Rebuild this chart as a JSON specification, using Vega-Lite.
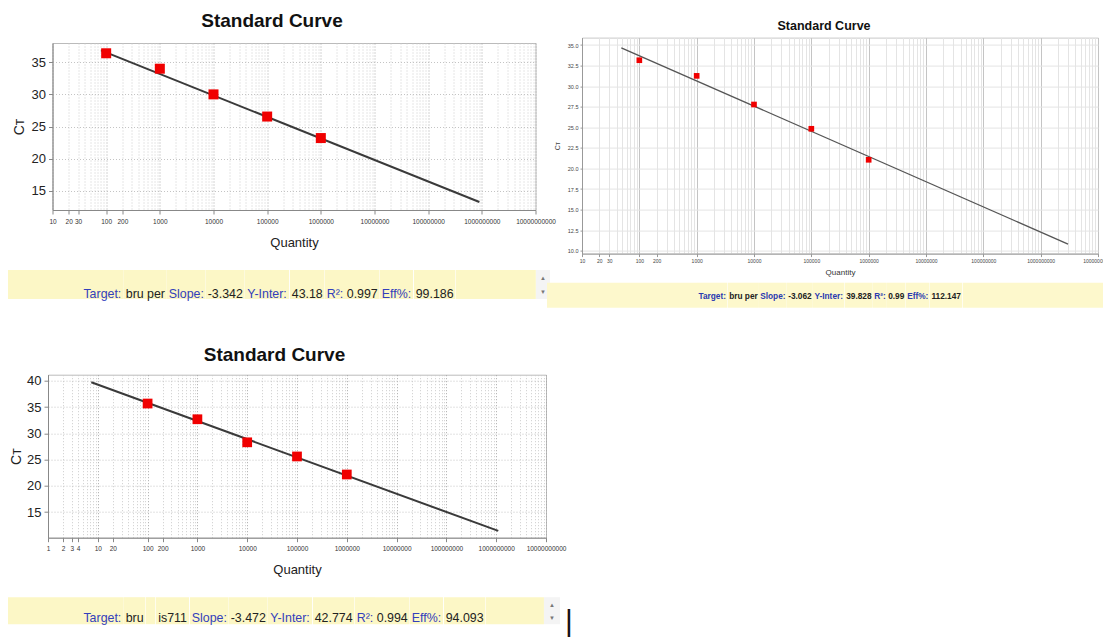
{
  "$schema": "https://vega.github.io/schema/vega-lite/v6.json",
  "background": "white",
  "padding": {"left": 8, "top": 11, "right": 0, "bottom": 0},
  "config": {
    "font": "Liberation Sans",
    "view": {"stroke": "#bbbbbb"},
    "axis": {"labelFont": "Liberation Sans", "titleFont": "Liberation Sans"}
  },
  "datasets": {
    "a_std": [{"quantity": 100, "ct": 36.4}, {"quantity": 1000, "ct": 34.0}, {"quantity": 10000, "ct": 30.0}, {"quantity": 100000, "ct": 26.55}, {"quantity": 1000000, "ct": 23.2}],
    "a_fit": [{"quantity": 80, "ct": 36.85}, {"quantity": 900000000, "ct": 13.25}],
    "b_std": [{"quantity": 100, "ct": 35.7}, {"quantity": 1000, "ct": 32.7}, {"quantity": 10000, "ct": 28.3}, {"quantity": 100000, "ct": 25.6}, {"quantity": 1000000, "ct": 22.16}],
    "b_fit": [{"quantity": 7.4, "ct": 39.75}, {"quantity": 1100000000, "ct": 11.4}],
    "c_std": [{"quantity": 100, "ct": 33.15}, {"quantity": 1000, "ct": 31.25}, {"quantity": 10000, "ct": 27.77}, {"quantity": 100000, "ct": 24.82}, {"quantity": 1000000, "ct": 21.05}],
    "c_fit": [{"quantity": 48.5, "ct": 34.66}, {"quantity": 3000000000, "ct": 10.8}],
    "a_label": [{"panel": "A"}],
    "b_label": [{"panel": "B"}],
    "c_label": [{"panel": "C"}],
    "blank": [{}]
  },
  "columns": 1,
  "align": "none",
  "spacing": 37.7,
  "concat": [
    {
      "align": "none",
      "spacing": -9,
      "concat": [
        {
          "columns": 1,
          "align": "none",
          "spacing": 20,
          "concat": [
            {
              "align": "none",
              "spacing": 2.5,
              "concat": [
                {"width": 1, "height": 1, "view": {"stroke": null}, "data": {"name": "blank"}, "mark": {"type": "rect", "opacity": 0}},
                {
                  "width": 483, "height": 167,
                  "title": {"text": "Standard Curve", "fontSize": 19, "fontWeight": "bold", "color": "#111111", "offset": 12.4, "dx": -22, "frame": "group", "anchor": "middle"},
                  "view": {"stroke": "#bbbbbb"},
                  "encoding": {
                    "x": {"field": "quantity", "type": "quantitative",
                      "scale": {"type": "log", "domain": [10, 10000000000], "nice": false},
                      "axis": {
                        "title": "Quantity", "titleFontSize": 13, "titleFontWeight": "normal", "titleColor": "#222222", "titlePadding": 11.8,
                        "values": [10,20,30,40,50,60,70,80,90,100,200,300,400,500,600,700,800,900,1000,2000,3000,4000,5000,6000,7000,8000,9000,10000,20000,30000,40000,50000,60000,70000,80000,90000,100000,200000,300000,400000,500000,600000,700000,800000,900000,1000000,2000000,3000000,4000000,5000000,6000000,7000000,8000000,9000000,10000000,20000000,30000000,40000000,50000000,60000000,70000000,80000000,90000000,100000000,200000000,300000000,400000000,500000000,600000000,700000000,800000000,900000000,1000000000,2000000000,3000000000,4000000000,5000000000,6000000000,7000000000,8000000000,9000000000,10000000000],
                        "labelExpr": "indexof([10,20,30,100,200,1000,10000,100000,1000000,10000000,100000000,1000000000,10000000000], datum.value) >= 0 ? format(datum.value, 'd') : ''",
                        "labelFontSize": 6.5, "labelColor": "#333333", "labelPadding": 4, "labelOverlap": false, "labelFlush": false,
                        "tickSize": 4, "tickColor": "#888888",
                        "tickOpacity": {"condition": {"test": "indexof([10,20,30,100,200,1000,10000,100000,1000000,10000000,100000000,1000000000,10000000000], datum.value) >= 0", "value": 1}, "value": 0},
                        "domainColor": "#888888",
                        "grid": true, "gridDash": [1, 2],
                        "gridColor": {"condition": {"test": "indexof([10,100,1000,10000,100000,1000000,10000000,100000000,1000000000,10000000000], datum.value) >= 0", "value": "#a8a8a8"}, "value": "#cccccc"}
                      }
                    },
                    "y": {"field": "ct", "type": "quantitative",
                      "scale": {"domain": [12, 38], "nice": false, "zero": false},
                      "axis": {
                        "title": "Cт", "titleFontSize": 14, "titleFontWeight": "normal", "titleColor": "#222222", "titlePadding": 5,
                        "values": [15, 20, 25, 30, 35],
                        "labelFontSize": 13, "labelColor": "#222222", "labelPadding": 3,
                        "tickSize": 4, "tickColor": "#888888", "domainColor": "#888888",
                        "grid": true, "gridDash": [1, 2], "gridColor": "#c4c4c4"
                      }
                    }
                  },
                  "layer": [
                    {"data": {"name": "a_fit"}, "mark": {"type": "line", "color": "#3a3a3a", "strokeWidth": 2}},
                    {"data": {"name": "a_label"}, "mark": {"type": "rect", "fill": "white"},
                      "encoding": {"x": {"datum": 10.3}, "x2": {"datum": 54}, "y": {"datum": 32.5}, "y2": {"datum": 38}}},
                    {"data": {"name": "a_label"}, "mark": {"type": "text", "font": "Liberation Serif", "fontSize": 17, "color": "#111111"},
                      "encoding": {"x": {"datum": 21.7}, "y": {"datum": 35.5}, "text": {"field": "panel"}}},
                    {"data": {"name": "a_std"}, "mark": {"type": "square", "size": 100, "color": "#f00000", "opacity": 1}}
                  ]
                }
              ]
            },
            {
              "bounds": "flush", "spacing": 0,
              "hconcat": [
                {"width": 73, "height": 29, "view": {"fill": "#fcf7c6", "stroke": null}, "data": {"name": "blank"}, "mark": {"type": "rect", "opacity": 0}},
                {"width": 42.73, "height": 29, "view": {"fill": "#fcf7c6", "stroke": null}, "data": {"values": [{"seg": "Target:"}]}, "mark": {"type": "text", "fontSize": 12.4, "color": "#3340bb", "dy": 9.5}, "encoding": {"text": {"field": "seg"}}},
                {"width": 42.73, "height": 29, "view": {"fill": "#fcf7c6", "stroke": null}, "data": {"values": [{"seg": "bru per"}]}, "mark": {"type": "text", "fontSize": 12.4, "color": "#222222", "dy": 9.5}, "encoding": {"text": {"field": "seg"}}},
                {"width": 38.6, "height": 29, "view": {"fill": "#fcf7c6", "stroke": null}, "data": {"values": [{"seg": "Slope:"}]}, "mark": {"type": "text", "fontSize": 12.4, "color": "#3340bb", "dy": 9.5}, "encoding": {"text": {"field": "seg"}}},
                {"width": 38.6, "height": 29, "view": {"fill": "#fcf7c6", "stroke": null}, "data": {"values": [{"seg": "-3.342"}]}, "mark": {"type": "text", "fontSize": 12.4, "color": "#222222", "dy": 9.5}, "encoding": {"text": {"field": "seg"}}},
                {"width": 44.11, "height": 29, "view": {"fill": "#fcf7c6", "stroke": null}, "data": {"values": [{"seg": "Y-Inter:"}]}, "mark": {"type": "text", "fontSize": 12.4, "color": "#3340bb", "dy": 9.5}, "encoding": {"text": {"field": "seg"}}},
                {"width": 34.47, "height": 29, "view": {"fill": "#fcf7c6", "stroke": null}, "data": {"values": [{"seg": "43.18"}]}, "mark": {"type": "text", "fontSize": 12.4, "color": "#222222", "dy": 9.5}, "encoding": {"text": {"field": "seg"}}},
                {"width": 19.98, "height": 29, "view": {"fill": "#fcf7c6", "stroke": null}, "data": {"values": [{"seg": "R²:"}]}, "mark": {"type": "text", "fontSize": 12.4, "color": "#3340bb", "dy": 9.5}, "encoding": {"text": {"field": "seg"}}},
                {"width": 34.47, "height": 29, "view": {"fill": "#fcf7c6", "stroke": null}, "data": {"values": [{"seg": "0.997"}]}, "mark": {"type": "text", "fontSize": 12.4, "color": "#222222", "dy": 9.5}, "encoding": {"text": {"field": "seg"}}},
                {"width": 33.09, "height": 29, "view": {"fill": "#fcf7c6", "stroke": null}, "data": {"values": [{"seg": "Eff%:"}]}, "mark": {"type": "text", "fontSize": 12.4, "color": "#3340bb", "dy": 9.5}, "encoding": {"text": {"field": "seg"}}},
                {"width": 41.37, "height": 29, "view": {"fill": "#fcf7c6", "stroke": null}, "data": {"values": [{"seg": "99.186"}]}, "mark": {"type": "text", "fontSize": 12.4, "color": "#222222", "dy": 9.5}, "encoding": {"text": {"field": "seg"}}},
                {"width": 79.8, "height": 29, "view": {"fill": "#fcf7c6", "stroke": null}, "data": {"name": "blank"}, "mark": {"type": "rect", "opacity": 0}},
                {"width": 14, "height": 29, "view": {"fill": "#f4f4f4", "stroke": null}, "data": {"values": [{"up": "▲", "down": "▼"}]},
                  "layer": [
                    {"mark": {"type": "text", "fontSize": 6, "color": "#777777", "dy": -6.5}, "encoding": {"text": {"field": "up"}}},
                    {"mark": {"type": "text", "fontSize": 6, "color": "#777777", "dy": 7.5}, "encoding": {"text": {"field": "down"}}}
                  ]}
              ]
            }
          ]
        },
        {
          "columns": 1,
          "align": "none",
          "spacing": 4.7,
          "concat": [
            {
              "columns": 1,
              "align": "none",
              "spacing": -24.4,
              "concat": [
                {"width": 1, "height": 1, "view": {"stroke": null}, "data": {"name": "blank"}, "mark": {"type": "rect", "opacity": 0}},
                {
                  "align": "none",
                  "spacing": 5,
                  "concat": [
                    {"width": 1, "height": 1, "view": {"stroke": null}, "data": {"name": "blank"}, "mark": {"type": "rect", "opacity": 0}},
                    {
                      "width": 516, "height": 216,
                      "title": {"text": "Standard Curve", "fontSize": 12.5, "fontWeight": "bold", "color": "#111111", "offset": 4.6, "dx": -16, "frame": "group", "anchor": "middle"},
                      "view": {"stroke": "#c8c8c8"},
                      "encoding": {
                        "x": {"field": "quantity", "type": "quantitative",
                          "scale": {"type": "log", "domain": [10, 10000000000], "nice": false},
                          "axis": {
                            "title": "Quantity", "titleFontSize": 8, "titleFontWeight": "normal", "titleColor": "#333333", "titlePadding": 5,
                            "values": [10,20,30,40,50,60,70,80,90,100,200,300,400,500,600,700,800,900,1000,2000,3000,4000,5000,6000,7000,8000,9000,10000,20000,30000,40000,50000,60000,70000,80000,90000,100000,200000,300000,400000,500000,600000,700000,800000,900000,1000000,2000000,3000000,4000000,5000000,6000000,7000000,8000000,9000000,10000000,20000000,30000000,40000000,50000000,60000000,70000000,80000000,90000000,100000000,200000000,300000000,400000000,500000000,600000000,700000000,800000000,900000000,1000000000,2000000000,3000000000,4000000000,5000000000,6000000000,7000000000,8000000000,9000000000,10000000000],
                            "labelExpr": "indexof([10,20,30,100,200,1000,10000,100000,1000000,10000000,100000000,1000000000,10000000000], datum.value) >= 0 ? format(datum.value, 'd') : ''",
                            "labelFontSize": 5, "labelColor": "#444444", "labelPadding": 2, "labelOverlap": false, "labelFlush": false,
                            "tickSize": 3, "tickColor": "#999999",
                            "tickOpacity": {"condition": {"test": "indexof([10,20,30,100,200,1000,10000,100000,1000000,10000000,100000000,1000000000,10000000000], datum.value) >= 0", "value": 1}, "value": 0},
                            "domainColor": "#999999",
                            "grid": true,
                            "gridColor": {"condition": {"test": "indexof([10,100,1000,10000,100000,1000000,10000000,100000000,1000000000,10000000000], datum.value) >= 0", "value": "#c4c4c4"}, "value": "#e4e4e4"}
                          }
                        },
                        "y": {"field": "ct", "type": "quantitative",
                          "scale": {"domain": [9.65, 35.9], "nice": false, "zero": false},
                          "axis": {
                            "title": "Cт", "titleFontSize": 7, "titleFontWeight": "normal", "titleColor": "#444444", "titlePadding": 6.3,
                            "values": [10, 12.5, 15, 17.5, 20, 22.5, 25, 27.5, 30, 32.5, 35], "format": ".1f",
                            "labelFontSize": 5.5, "labelColor": "#444444", "labelPadding": 2,
                            "tickSize": 2, "tickColor": "#999999", "domainColor": "#999999",
                            "grid": true, "gridColor": "#e4e4e4"
                          }
                        }
                      },
                      "layer": [
                        {"data": {"name": "c_fit"}, "mark": {"type": "line", "color": "#555555", "strokeWidth": 1.3}},
                        {"data": {"name": "c_label"}, "mark": {"type": "rect", "fill": "white"},
                          "encoding": {"x": {"datum": 10.3}, "x2": {"datum": 48}, "y": {"datum": 30.6}, "y2": {"datum": 35.8}}},
                        {"data": {"name": "c_label"}, "mark": {"type": "text", "font": "Liberation Serif", "fontSize": 20, "color": "#111111"},
                          "encoding": {"x": {"datum": 19.8}, "y": {"datum": 33.43}, "text": {"field": "panel"}}},
                        {"data": {"name": "c_std"}, "mark": {"type": "square", "size": 32, "color": "#f00000", "opacity": 1}}
                      ]
                    }
                  ]
                }
              ]
            },
            {
              "bounds": "flush", "spacing": 0,
              "hconcat": [
                {"width": 150, "height": 25, "view": {"fill": "#fdf8cc", "stroke": null}, "data": {"name": "blank"}, "mark": {"type": "rect", "opacity": 0}},
                {"width": 30.4, "height": 25, "view": {"fill": "#fdf8cc", "stroke": null}, "data": {"values": [{"seg": "Target:"}]}, "mark": {"type": "text", "fontSize": 8.3, "fontWeight": "bold", "color": "#2a3ab0", "dy": 1.5}, "encoding": {"text": {"field": "seg"}}},
                {"width": 30.9, "height": 25, "view": {"fill": "#fdf8cc", "stroke": null}, "data": {"values": [{"seg": "bru per"}]}, "mark": {"type": "text", "fontSize": 8.3, "fontWeight": "bold", "color": "#222222", "dy": 1.5}, "encoding": {"text": {"field": "seg"}}},
                {"width": 27.7, "height": 25, "view": {"fill": "#fdf8cc", "stroke": null}, "data": {"values": [{"seg": "Slope:"}]}, "mark": {"type": "text", "fontSize": 8.3, "fontWeight": "bold", "color": "#2a3ab0", "dy": 1.5}, "encoding": {"text": {"field": "seg"}}},
                {"width": 25.8, "height": 25, "view": {"fill": "#fdf8cc", "stroke": null}, "data": {"values": [{"seg": "-3.062"}]}, "mark": {"type": "text", "fontSize": 8.3, "fontWeight": "bold", "color": "#222222", "dy": 1.5}, "encoding": {"text": {"field": "seg"}}},
                {"width": 31.4, "height": 25, "view": {"fill": "#fdf8cc", "stroke": null}, "data": {"values": [{"seg": "Y-Inter:"}]}, "mark": {"type": "text", "fontSize": 8.3, "fontWeight": "bold", "color": "#2a3ab0", "dy": 1.5}, "encoding": {"text": {"field": "seg"}}},
                {"width": 27.7, "height": 25, "view": {"fill": "#fdf8cc", "stroke": null}, "data": {"values": [{"seg": "39.828"}]}, "mark": {"type": "text", "fontSize": 8.3, "fontWeight": "bold", "color": "#222222", "dy": 1.5}, "encoding": {"text": {"field": "seg"}}},
                {"width": 13.8, "height": 25, "view": {"fill": "#fdf8cc", "stroke": null}, "data": {"values": [{"seg": "R²:"}]}, "mark": {"type": "text", "fontSize": 8.3, "fontWeight": "bold", "color": "#2a3ab0", "dy": 1.5}, "encoding": {"text": {"field": "seg"}}},
                {"width": 18.5, "height": 25, "view": {"fill": "#fdf8cc", "stroke": null}, "data": {"values": [{"seg": "0.99"}]}, "mark": {"type": "text", "fontSize": 8.3, "fontWeight": "bold", "color": "#222222", "dy": 1.5}, "encoding": {"text": {"field": "seg"}}},
                {"width": 23.5, "height": 25, "view": {"fill": "#fdf8cc", "stroke": null}, "data": {"values": [{"seg": "Eff%:"}]}, "mark": {"type": "text", "fontSize": 8.3, "fontWeight": "bold", "color": "#2a3ab0", "dy": 1.5}, "encoding": {"text": {"field": "seg"}}},
                {"width": 32.3, "height": 25, "view": {"fill": "#fdf8cc", "stroke": null}, "data": {"values": [{"seg": "112.147"}]}, "mark": {"type": "text", "fontSize": 8.3, "fontWeight": "bold", "color": "#222222", "dy": 1.5}, "encoding": {"text": {"field": "seg"}}},
                {"width": 147, "height": 25, "view": {"fill": "#fdf8cc", "stroke": null}, "data": {"name": "blank"}, "mark": {"type": "rect", "opacity": 0}}
              ]
            }
          ]
        }
      ]
    },
    {
      "columns": 1,
      "align": "none",
      "spacing": 19.5,
      "concat": [
        {
          "align": "none",
          "spacing": 0,
          "concat": [
            {"width": 1, "height": 1, "view": {"stroke": null}, "data": {"name": "blank"}, "mark": {"type": "rect", "opacity": 0}},
            {
              "width": 498, "height": 163,
              "title": {"text": "Standard Curve", "fontSize": 19, "fontWeight": "bold", "color": "#111111", "offset": 9.3, "dx": -22.5, "frame": "group", "anchor": "middle"},
              "view": {"stroke": "#bbbbbb"},
              "encoding": {
                "x": {"field": "quantity", "type": "quantitative",
                  "scale": {"type": "log", "domain": [1, 10000000000], "nice": false},
                  "axis": {
                    "title": "Quantity", "titleFontSize": 13, "titleFontWeight": "normal", "titleColor": "#222222", "titlePadding": 11.7,
                    "values": [1,2,3,4,5,6,7,8,9,10,20,30,40,50,60,70,80,90,100,200,300,400,500,600,700,800,900,1000,2000,3000,4000,5000,6000,7000,8000,9000,10000,20000,30000,40000,50000,60000,70000,80000,90000,100000,200000,300000,400000,500000,600000,700000,800000,900000,1000000,2000000,3000000,4000000,5000000,6000000,7000000,8000000,9000000,10000000,20000000,30000000,40000000,50000000,60000000,70000000,80000000,90000000,100000000,200000000,300000000,400000000,500000000,600000000,700000000,800000000,900000000,1000000000,2000000000,3000000000,4000000000,5000000000,6000000000,7000000000,8000000000,9000000000,10000000000],
                    "labelExpr": "indexof([1,2,3,4,10,20,100,200,1000,10000,100000,1000000,10000000,100000000,1000000000,10000000000], datum.value) >= 0 ? format(datum.value, 'd') : ''",
                    "labelFontSize": 6.5, "labelColor": "#333333", "labelPadding": 4, "labelOverlap": false, "labelFlush": false,
                    "tickSize": 4, "tickColor": "#888888",
                    "tickOpacity": {"condition": {"test": "indexof([1,2,3,4,10,20,100,200,1000,10000,100000,1000000,10000000,100000000,1000000000,10000000000], datum.value) >= 0", "value": 1}, "value": 0},
                    "domainColor": "#888888",
                    "grid": true, "gridDash": [1, 2],
                    "gridColor": {"condition": {"test": "indexof([1,10,100,1000,10000,100000,1000000,10000000,100000000,1000000000,10000000000], datum.value) >= 0", "value": "#a8a8a8"}, "value": "#cccccc"}
                  }
                },
                "y": {"field": "ct", "type": "quantitative",
                  "scale": {"domain": [10.1, 41.2], "nice": false, "zero": false},
                  "axis": {
                    "title": "Cт", "titleFontSize": 14, "titleFontWeight": "normal", "titleColor": "#222222", "titlePadding": 2.8,
                    "values": [15, 20, 25, 30, 35, 40],
                    "labelFontSize": 13, "labelColor": "#222222", "labelPadding": 3,
                    "tickSize": 4, "tickColor": "#888888", "domainColor": "#888888",
                    "grid": true, "gridDash": [1, 2], "gridColor": "#c4c4c4"
                  }
                }
              },
              "layer": [
                {"data": {"name": "b_fit"}, "mark": {"type": "line", "color": "#3a3a3a", "strokeWidth": 2}},
                {"data": {"name": "b_label"}, "mark": {"type": "rect", "fill": "white"},
                  "encoding": {"x": {"datum": 1.03}, "x2": {"datum": 6.3}, "y": {"datum": 33.4}, "y2": {"datum": 41.2}}},
                {"data": {"name": "b_label"}, "mark": {"type": "text", "font": "Liberation Serif", "fontSize": 17, "color": "#111111"},
                  "encoding": {"x": {"datum": 2.27}, "y": {"datum": 37.06}, "text": {"field": "panel"}}},
                {"data": {"name": "b_std"}, "mark": {"type": "square", "size": 95, "color": "#f00000", "opacity": 1}}
              ]
            }
          ]
        },
        {
          "bounds": "flush", "spacing": 0,
          "hconcat": [
            {"width": 73, "height": 27, "view": {"fill": "#fcf7c6", "stroke": null}, "data": {"name": "blank"}, "mark": {"type": "rect", "opacity": 0}},
            {"width": 42.73, "height": 27, "view": {"fill": "#fcf7c6", "stroke": null}, "data": {"values": [{"seg": "Target:"}]}, "mark": {"type": "text", "fontSize": 12.4, "color": "#3340bb", "dy": 7.5}, "encoding": {"text": {"field": "seg"}}},
            {"width": 21.37, "height": 27, "view": {"fill": "#fcf7c6", "stroke": null}, "data": {"values": [{"seg": "bru"}]}, "mark": {"type": "text", "fontSize": 12.4, "color": "#222222", "dy": 7.5}, "encoding": {"text": {"field": "seg"}}},
            {"width": 9.3, "height": 27, "view": {"fill": "#fcf7c6", "stroke": null}, "data": {"name": "blank"}, "mark": {"type": "rect", "opacity": 0}},
            {"width": 33.09, "height": 27, "view": {"fill": "#fcf7c6", "stroke": null}, "data": {"values": [{"seg": "is711"}]}, "mark": {"type": "text", "fontSize": 12.4, "color": "#222222", "dy": 7.5}, "encoding": {"text": {"field": "seg"}}},
            {"width": 38.6, "height": 27, "view": {"fill": "#fcf7c6", "stroke": null}, "data": {"values": [{"seg": "Slope:"}]}, "mark": {"type": "text", "fontSize": 12.4, "color": "#3340bb", "dy": 7.5}, "encoding": {"text": {"field": "seg"}}},
            {"width": 38.6, "height": 27, "view": {"fill": "#fcf7c6", "stroke": null}, "data": {"values": [{"seg": "-3.472"}]}, "mark": {"type": "text", "fontSize": 12.4, "color": "#222222", "dy": 7.5}, "encoding": {"text": {"field": "seg"}}},
            {"width": 44.11, "height": 27, "view": {"fill": "#fcf7c6", "stroke": null}, "data": {"values": [{"seg": "Y-Inter:"}]}, "mark": {"type": "text", "fontSize": 12.4, "color": "#3340bb", "dy": 7.5}, "encoding": {"text": {"field": "seg"}}},
            {"width": 41.37, "height": 27, "view": {"fill": "#fcf7c6", "stroke": null}, "data": {"values": [{"seg": "42.774"}]}, "mark": {"type": "text", "fontSize": 12.4, "color": "#222222", "dy": 7.5}, "encoding": {"text": {"field": "seg"}}},
            {"width": 19.98, "height": 27, "view": {"fill": "#fcf7c6", "stroke": null}, "data": {"values": [{"seg": "R²:"}]}, "mark": {"type": "text", "fontSize": 12.4, "color": "#3340bb", "dy": 7.5}, "encoding": {"text": {"field": "seg"}}},
            {"width": 34.47, "height": 27, "view": {"fill": "#fcf7c6", "stroke": null}, "data": {"values": [{"seg": "0.994"}]}, "mark": {"type": "text", "fontSize": 12.4, "color": "#222222", "dy": 7.5}, "encoding": {"text": {"field": "seg"}}},
            {"width": 33.09, "height": 27, "view": {"fill": "#fcf7c6", "stroke": null}, "data": {"values": [{"seg": "Eff%:"}]}, "mark": {"type": "text", "fontSize": 12.4, "color": "#3340bb", "dy": 7.5}, "encoding": {"text": {"field": "seg"}}},
            {"width": 41.37, "height": 27, "view": {"fill": "#fcf7c6", "stroke": null}, "data": {"values": [{"seg": "94.093"}]}, "mark": {"type": "text", "fontSize": 12.4, "color": "#222222", "dy": 7.5}, "encoding": {"text": {"field": "seg"}}},
            {"width": 57.9, "height": 27, "view": {"fill": "#fcf7c6", "stroke": null}, "data": {"name": "blank"}, "mark": {"type": "rect", "opacity": 0}},
            {"width": 16, "height": 27, "view": {"fill": "#f4f4f4", "stroke": null}, "data": {"values": [{"up": "▲", "down": "▼"}]},
              "layer": [
                {"mark": {"type": "text", "fontSize": 6, "color": "#777777", "dy": -6}, "encoding": {"text": {"field": "up"}}},
                {"mark": {"type": "text", "fontSize": 6, "color": "#777777", "dy": 7}, "encoding": {"text": {"field": "down"}}}
              ]},
            {"width": 7, "height": 27, "view": {"fill": null, "stroke": null}, "data": {"name": "blank"}, "mark": {"type": "rect", "opacity": 0}},
            {"width": 4, "height": 27, "view": {"fill": null, "stroke": null}, "data": {"values": [{"seg": "|"}]}, "mark": {"type": "text", "fontSize": 30, "color": "#111111", "dy": 11}, "encoding": {"text": {"field": "seg"}}}
          ]
        }
      ]
    }
  ]
}
